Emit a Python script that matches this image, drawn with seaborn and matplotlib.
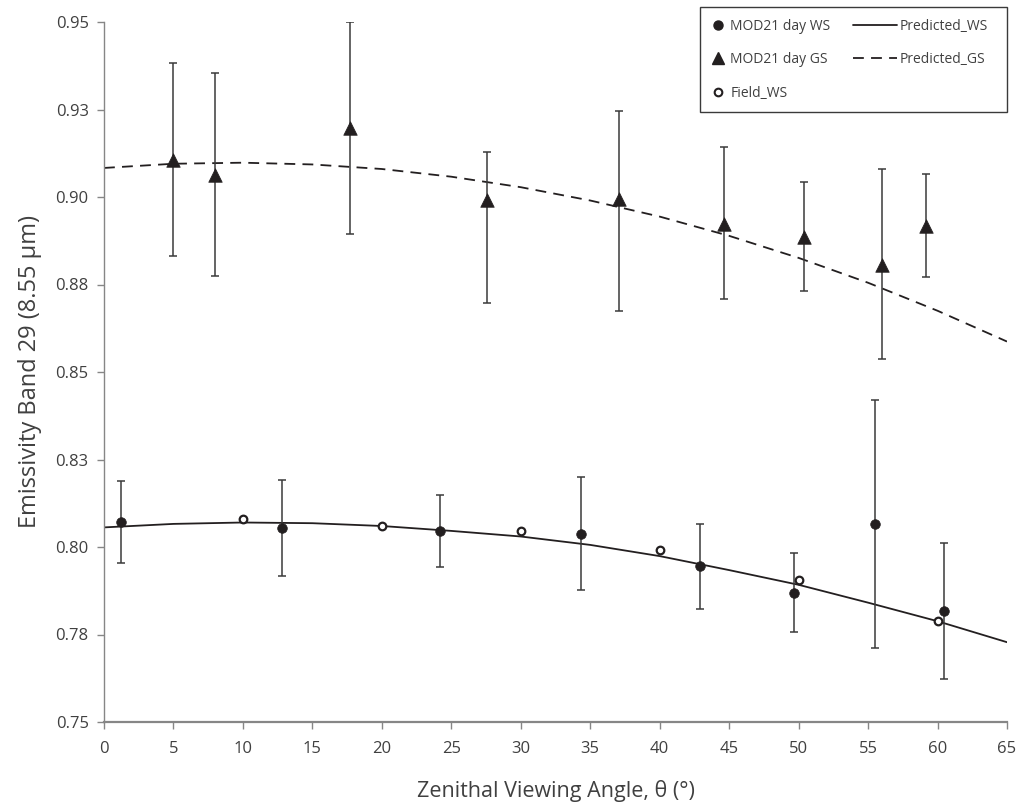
import matplotlib
matplotlib.use("Agg")
import matplotlib.pyplot as plt
import seaborn as sns
import pandas as pd
from matplotlib.lines import Line2D
from matplotlib.patches import Rectangle
from matplotlib.legend_handler import HandlerBase

# ---------------- data ----------------
gs_x = [5.0, 8.0, 17.7, 27.6, 37.1, 44.6, 50.4, 56.0, 59.2]
gs_y = [0.9105, 0.9063, 0.9197, 0.8991, 0.8994, 0.8923, 0.8886, 0.8806, 0.8917]
gs_lo = [0.8832, 0.8775, 0.8894, 0.8698, 0.8673, 0.8709, 0.8732, 0.8538, 0.8771]
gs_hi = [0.9383, 0.9353, 0.9500, 0.9128, 0.9245, 0.9143, 0.9043, 0.9080, 0.9067]

ws_x = [1.2, 12.8, 24.2, 34.3, 42.9, 49.7, 55.5, 60.5]
ws_y = [0.8072, 0.8055, 0.8045, 0.8038, 0.7945, 0.7870, 0.8066, 0.7817]
ws_lo = [0.7955, 0.7917, 0.7942, 0.7878, 0.7822, 0.7756, 0.7712, 0.7622]
ws_hi = [0.8189, 0.8192, 0.8149, 0.8199, 0.8067, 0.7984, 0.8421, 0.8011]

field_x = [10, 20, 30, 40, 50, 60]
field_y = [0.8081, 0.8059, 0.8045, 0.7991, 0.7905, 0.7788]

pred_x = [0, 5, 10, 15, 20, 25, 30, 35, 40, 45, 50, 55, 60, 65]
pred_ws = [0.8056, 0.8066, 0.8070, 0.8068, 0.8060, 0.8046, 0.8030, 0.8006,
           0.7974, 0.7934, 0.7892, 0.7841, 0.7788, 0.7728]
pred_gs = [0.9083, 0.9095, 0.9098, 0.9093, 0.9080, 0.9058, 0.9028, 0.8990,
           0.8944, 0.8889, 0.8826, 0.8755, 0.8675, 0.8587]

x_ticks = [0, 5, 10, 15, 20, 25, 30, 35, 40, 45, 50, 55, 60, 65]
y_ticks = [0.75, 0.775, 0.80, 0.825, 0.85, 0.875, 0.90, 0.925, 0.95]
y_tick_labels = ["0.75", "0.78", "0.80", "0.83", "0.85", "0.88", "0.90", "0.93", "0.95"]

x_label = "Zenithal Viewing Angle, θ (°)"
y_label = "Emissivity Band 29 (8.55 µm)"
legend_labels = ["MOD21 day WS", "MOD21 day GS", "Field_WS", "Predicted_WS", "Predicted_GS"]

# ---------------- style ----------------
sns.set_style("white")
plt.rcParams["font.family"] = ["Open Sans", "DejaVu Sans"]

INK = "#231f20"
AXIS = "#868686"
TXT = "#404040"

W, H = 1022, 811
fig = plt.figure(figsize=(W / 100, H / 100), dpi=100)
ax = fig.add_axes([104 / W, 1 - 722 / H, (1007 - 104) / W, (722 - 22) / H])

# predicted curves
pred_df = pd.DataFrame({"x": pred_x, "ws": pred_ws, "gs": pred_gs})
sns.lineplot(data=pred_df, x="x", y="ws", ax=ax, color=INK, lw=1.3, zorder=2)
sns.lineplot(data=pred_df, x="x", y="gs", ax=ax, color=INK, lw=1.3, zorder=2)
ax.lines[-1].set_dashes((6, 4))

# error bars
gs_err = [[y - l for y, l in zip(gs_y, gs_lo)], [h - y for y, h in zip(gs_y, gs_hi)]]
ws_err = [[y - l for y, l in zip(ws_y, ws_lo)], [h - y for y, h in zip(ws_y, ws_hi)]]
ax.errorbar(gs_x, gs_y, yerr=gs_err, fmt="none", ecolor="#3a3a3a", elinewidth=1.1,
            capsize=3, capthick=1.1, zorder=3)
ax.errorbar(ws_x, ws_y, yerr=ws_err, fmt="none", ecolor="#3a3a3a", elinewidth=1.1,
            capsize=3, capthick=1.1, zorder=3)

# markers
sns.scatterplot(x=gs_x, y=gs_y, ax=ax, marker="^", s=95, color=INK, edgecolor=INK,
                linewidth=0.5, zorder=4)
sns.scatterplot(x=ws_x, y=ws_y, ax=ax, marker="o", s=48, color=INK, edgecolor=INK,
                linewidth=0.5, zorder=4)
sns.scatterplot(x=field_x, y=field_y, ax=ax, marker="o", s=30, color="white",
                edgecolor=INK, linewidth=1.6, zorder=5)

# axes
ax.set_xlim(0, 65)
ax.set_ylim(0.75, 0.95)
ax.set_xticks(x_ticks)
ax.set_xticklabels([str(t) for t in x_ticks])
ax.set_yticks(y_ticks)
ax.set_yticklabels(y_tick_labels)
ax.tick_params(axis="both", which="major", direction="out", length=5, width=1,
               color=AXIS, labelsize=12, labelcolor=TXT, pad=6)
ax.tick_params(axis="x", pad=9)
ax.tick_params(left=True, bottom=True)
for side in ["top", "right"]:
    ax.spines[side].set_visible(False)
ax.spines["left"].set_color(AXIS)
ax.spines["left"].set_linewidth(1.0)
ax.spines["bottom"].set_color(AXIS)
ax.spines["bottom"].set_linewidth(1.6)

ax.set_xlabel(x_label, fontsize=15.5, color=TXT, labelpad=16)
ax.set_ylabel(y_label, fontsize=17, color=TXT, labelpad=10)


# legend
class LongLine(HandlerBase):
    """Legend line that reaches further left than the handle box."""

    def __init__(self, left_ext, right_ext):
        super().__init__()
        self.left_ext = left_ext
        self.right_ext = right_ext

    def create_artists(self, legend, orig_handle, xdescent, ydescent, width,
                       height, fontsize, trans):
        y = (height - ydescent) / 2
        x0 = -xdescent - self.left_ext * fontsize
        x1 = -xdescent + width + self.right_ext * fontsize
        line = Line2D([x0, x1], [y, y])
        self.update_prop(line, orig_handle, legend)
        line.set_transform(trans)
        return [line]


h_ws = Line2D([], [], ls="none", marker="o", ms=6.5, color=INK)
h_gs = Line2D([], [], ls="none", marker="^", ms=8.5, color=INK)
h_f = Line2D([], [], ls="none", marker="o", ms=5.5, mfc="white", mec=INK, mew=1.5)
h_pws = Line2D([], [], ls="-", lw=1.3, color=INK)
h_pgs = Line2D([], [], ls=(0, (6, 4)), lw=1.3, color=INK)
handles = [h_ws, h_gs, h_f, h_pws, h_pgs]
leg = ax.legend(handles, legend_labels, ncol=2, loc="upper left",
                bbox_to_anchor=(711 / W, 1 - 19 / H), bbox_transform=fig.transFigure,
                borderaxespad=0, frameon=False, fontsize=10,
                handlelength=1.0, handletextpad=0.4, columnspacing=3.6,
                labelspacing=1.32, borderpad=0,
                handler_map={h_pws: LongLine(2.0, 0.15), h_pgs: LongLine(2.0, 0.15)})
for t in leg.get_texts():
    t.set_color(TXT)
fig.add_artist(Rectangle((700 / W, 1 - 112 / H), 307 / W, 105 / H,
                         transform=fig.transFigure, fill=False,
                         edgecolor="#3a3a3a", lw=1.0, zorder=10))

fig.savefig("out.png", dpi=100)
